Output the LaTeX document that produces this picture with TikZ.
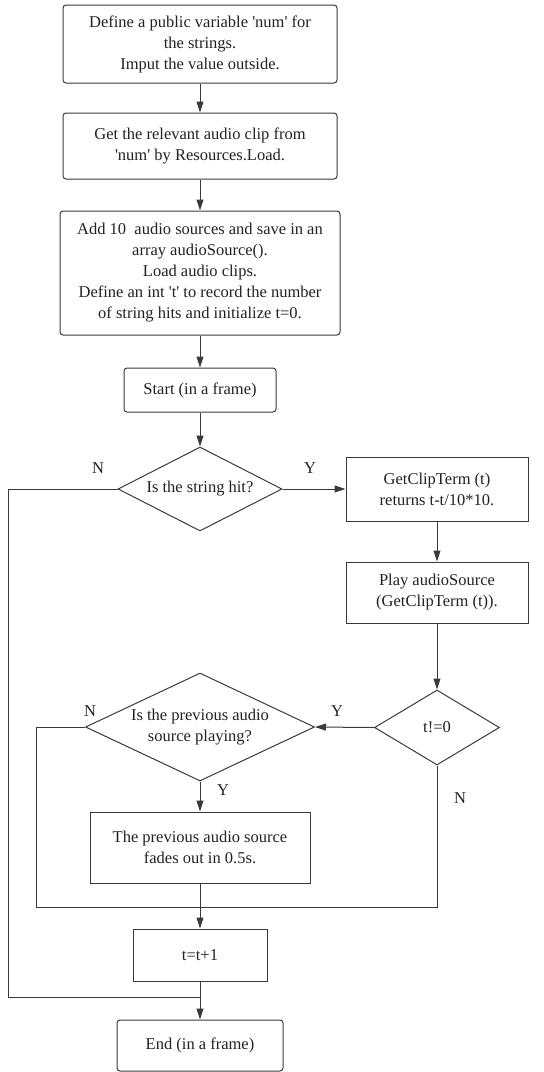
\documentclass[tikz,border=0pt]{standalone}
\usepackage{fontspec}
\setmainfont{Liberation Serif}
\usetikzlibrary{arrows.meta, shapes.geometric}
\definecolor{Ink}{HTML}{3A3A3A}
\definecolor{Txt}{HTML}{222222}
\newcommand{\sq}{\textquotesingle}

\begin{document}
\begin{tikzpicture}[x=1pt, y=-1pt,
    every node/.style={font=\fontsize{16.5}{21}\selectfont, text=Txt},
    procbox/.style={draw=Ink, line width=1pt, align=center, inner sep=0pt},
    roundbox/.style={procbox, rounded corners=3pt},
    decision/.style={draw=Ink, line width=1pt, diamond, align=center, inner sep=0pt, aspect=2},
    flow/.style={draw=Ink, line width=1pt, -{Triangle[length=11pt, width=7pt]}},
    wire/.style={draw=Ink, line width=1pt}]
    \useasboundingbox (0,0) rectangle (544,1072);

    % main column
    \node[roundbox, minimum width=274pt, minimum height=78pt] (define) at (200,44)
        {Define a public variable \sq num\sq{} for\\ the strings.\\ Imput the value outside.};
    \node[roundbox, minimum width=274pt, minimum height=66pt] (load) at (200,146)
        {Get the relevant audio clip from\\ \sq num\sq{} by Resources.Load.};
    \node[roundbox, minimum width=280pt, minimum height=124pt] (init) at (200,273)
        {Add 10\ \ audio sources and save in an\\ array audioSource().\\ Load audio clips.\\ Define an int \sq t\sq{} to record the number\\ of string hits and initialize t=0.};
    \node[roundbox, minimum width=152pt, minimum height=44pt] (start) at (200,390) {Start (in a frame)};
    \node[decision, minimum width=164pt, minimum height=84pt] (hit) at (200,489) {Is the string hit?};

    % right column
    \node[procbox, minimum width=182pt, minimum height=64pt] (clip) at (437,489)
        {GetClipTerm (t)\\ returns t-t/10*10.};
    \node[procbox, minimum width=182pt, minimum height=61pt] (play) at (437,592.5)
        {Play audioSource\\ (GetClipTerm (t)).};
    \node[decision, minimum width=125pt, minimum height=75pt] (nonzero) at (437,727.5) {t!=0};

    % fade branch
    \node[decision, minimum width=229pt, minimum height=108pt] (prev) at (200,727)
        {Is the previous audio\\ source playing?};
    \node[procbox, minimum width=220pt, minimum height=71pt] (fade) at (200,847.5)
        {The previous audio source\\ fades out in 0.5s.};
    \node[procbox, minimum width=134pt, minimum height=52pt] (inc) at (200,955) {t=t+1};
    \node[roundbox, minimum width=166pt, minimum height=51pt] (end) at (200,1045.5) {End (in a frame)};

    % branch labels
    \node (hitN) at (98,468) {N};
    \node (hitY) at (310,468) {Y};
    \node (prevN) at (90,711) {N};
    \node (nonzeroY) at (337,711) {Y};
    \node (prevY) at (223,790) {Y};
    \node (nonzeroN) at (460,798) {N};

    % connectors
    \draw[flow] (define) -- (load);
    \draw[flow] (load) -- (init);
    \draw[flow] (init) -- (start);
    \draw[flow] (start) -- (hit);
    \draw[flow] (hit.east) -- (clip.west);
    \draw[flow] (clip) -- (play);
    \draw[flow] (play) -- (nonzero);
    \draw[flow] (nonzero.west) -- (prev.east);
    \draw[flow] (prev) -- (fade);
    \draw[flow] (fade) -- (inc);
    \draw[flow] (inc) -- (end);

    % merge lines
    \coordinate (mergeA) at (200,907);
    \coordinate (mergeB) at (200,997);
    \coordinate (loopA) at (36,907);
    \coordinate (loopB) at (8,997);
    \draw[wire] (prev.west) -| (loopA) -- (mergeA);
    \draw[wire] (nonzero.south) |- (mergeA);
    \draw[wire] (hit.west) -| (loopB) -- (mergeB);
\end{tikzpicture}
\end{document}
